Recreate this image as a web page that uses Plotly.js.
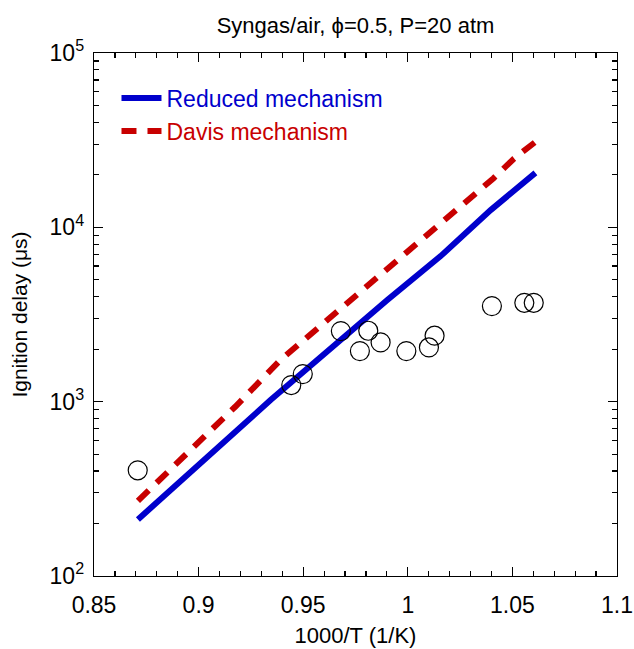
<!DOCTYPE html>
<html>
<head>
<meta charset="utf-8">
<script src="https://cdn.plot.ly/plotly-3.0.1.min.js"></script>
<style>html,body{margin:0;padding:0;background:#fff;}#chart{width:634px;height:649px;}</style>
</head>
<body>
<div id="chart"></div>
<script>
// Reduced mechanism (blue solid)
var reducedX = [0.871, 0.9344, 0.9902, 1.0157, 1.0396, 1.061];
var reducedY = [211, 1021, 3830, 6840, 12560, 20530];
// Davis mechanism (red dashed)
var davisX = [0.871, 0.882, 0.9175, 0.9391, 1.041, 1.0508, 1.061];
var davisY = [270, 361, 935, 1732, 19140, 24830, 30900];
// Experimental data (open circles)
var expX = [0.8709, 0.9443, 0.9498, 0.968, 0.9771, 0.9811, 0.987, 0.9993, 1.0101, 1.0128, 1.0402, 1.0557, 1.0602];
var expY = [404, 1245, 1439, 2540, 1950, 2551, 2188, 1950, 2047, 2390, 3533, 3690, 3690];
// Tick labels
var xTickVals = [0.85, 0.9, 0.95, 1, 1.05, 1.1];
var xTickText = ['0.85', '0.9', '0.95', '1', '1.05', '1.1'];
var yTickVals = [100, 1000, 10000, 100000];
var yTickText = ['10<sup>2</sup>', '10<sup>3</sup>', '10<sup>4</sup>', '10<sup>5</sup>'];

var FONT = 'Liberation Sans, Arial, Helvetica, sans-serif';
var BLUE = '#0000cc';
var RED = '#c80000';

var traces = [
  {x: reducedX, y: reducedY, mode: 'lines', type: 'scatter',
   name: '<span style="color:' + BLUE + '">Reduced mechanism</span>',
   line: {color: BLUE, width: 6}},
  {x: davisX, y: davisY, mode: 'lines', type: 'scatter',
   name: '<span style="color:' + RED + '">Davis mechanism</span>',
   line: {color: RED, width: 6, dash: '15px,11px'}},
  {x: expX, y: expY, mode: 'markers', type: 'scatter', showlegend: false,
   marker: {symbol: 'circle-open', size: 19, color: '#000', line: {width: 1.2}}}
];

var layout = {
  width: 634, height: 649,
  margin: {l: 94, r: 17, t: 53, b: 73},
  paper_bgcolor: '#fff', plot_bgcolor: '#fff',
  font: {family: FONT, size: 22, color: '#000'},
  title: {text: 'Syngas/air, \u03d5=0.5, P=20 atm', font: {family: FONT, size: 22, color: '#000'},
          x: 0.5, xref: 'paper', y: 1 - 25/649, yref: 'container', yanchor: 'middle'},
  xaxis: {range: [0.85, 1.1], tickmode: 'array', tickvals: xTickVals, ticktext: xTickText,
          ticks: 'inside', ticklen: 9, tickwidth: 1.2, tickcolor: '#000',
          showline: true, linecolor: '#000', linewidth: 1.3, mirror: 'ticks',
          showgrid: false, zeroline: false, ticklabelstandoff: 8,
          tickfont: {family: FONT, size: 23, color: '#000'},
          minor: {dtick: 0.01, ticks: 'inside', ticklen: 5, tickwidth: 1.2, tickcolor: '#000', showgrid: false},
          title: {text: '1000/T (1/K)', font: {family: FONT, size: 22, color: '#000'}, standoff: 10}},
  yaxis: {type: 'log', range: [2, 5], tickmode: 'array', tickvals: yTickVals, ticktext: yTickText,
          ticks: 'inside', ticklen: 9, tickwidth: 1.2, tickcolor: '#000',
          showline: true, linecolor: '#000', linewidth: 1.3, mirror: 'ticks',
          showgrid: false, zeroline: false, ticklabelstandoff: 4,
          tickfont: {family: FONT, size: 23, color: '#000'},
          minor: {dtick: 'D1', ticks: 'inside', ticklen: 5, tickwidth: 1.2, tickcolor: '#000', showgrid: false},
          title: {text: 'Ignition delay (\u03bcs)', font: {family: FONT, size: 21, color: '#000'}, standoff: 16}},
  showlegend: true,
  legend: {x: 0.043, y: 0.955, xanchor: 'left', yanchor: 'top', bgcolor: 'rgba(0,0,0,0)',
           font: {family: FONT, size: 23}, itemwidth: 40, tracegroupgap: 0}
};

Plotly.newPlot('chart', traces, layout, {staticPlot: true, displayModeBar: false});
</script>
</body>
</html>
